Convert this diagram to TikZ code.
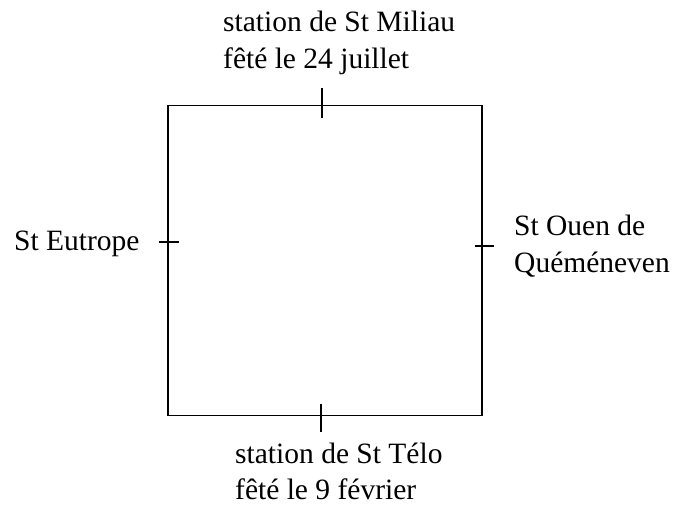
\documentclass[tikz,border=0pt]{standalone}
\usepackage{fontspec}
\setmainfont{Liberation Serif}
\usetikzlibrary{positioning}

\begin{document}
\begin{tikzpicture}[
  x=1pt,y=-1pt,
  plan/.style={draw,line width=1.9pt,minimum width=314pt,minimum height=310pt,inner sep=0pt},
  tick/.style={line width=1.9pt},
  lieu/.style={inner sep=0pt,align=left,font=\fontsize{29.5}{37}\selectfont}
]
  \useasboundingbox (0,0) rectangle (673,506);
  \node[plan] (enclos) at (325,260.5) {};

  \coordinate (nord) at (322,105.5);
  \coordinate (sud) at (321,415.5);
  \coordinate (ouest) at (168,242);
  \coordinate (est) at (482,246);

  \draw[tick] (nord) ++(0,-18) -- ++(0,30);
  \draw[tick] (sud) ++(0,-12) -- ++(0,28);
  \draw[tick] (ouest) ++(-9,0) -- ++(20,0);
  \draw[tick] (est) ++(-7,0) -- ++(19,0);

  \node[lieu,anchor=base west] (miliau) at (223,68) {station de St Miliau\\fêté le 24 juillet};
  \node[lieu,anchor=base west,font=\fontsize{29.5}{36}\selectfont] (telo) at (235,499) {station de St Télo\\fêté le 9 février};
  \node[lieu,anchor=base west] (eutrope) at (14,250) {St Eutrope};
  \node[lieu,anchor=base west] (ouen) at (514,272) {St Ouen de\\Quéméneven};
\end{tikzpicture}
\end{document}
